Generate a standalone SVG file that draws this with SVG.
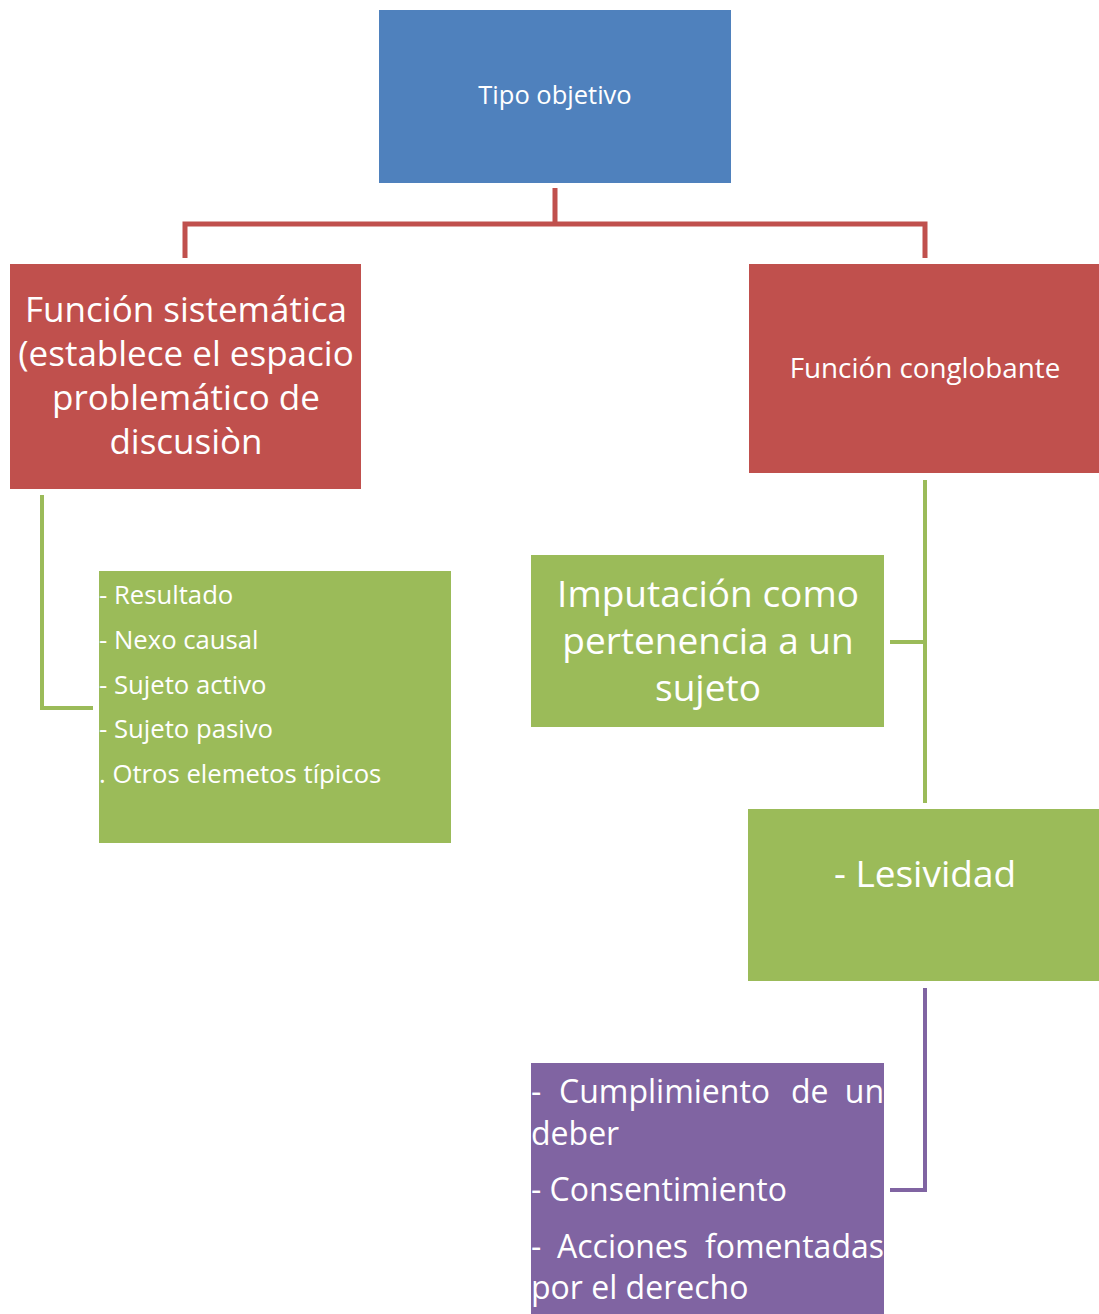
<svg xmlns="http://www.w3.org/2000/svg" width="1099" height="1314" viewBox="0 0 1099 1314">
<style>
text{font-family:"Open Sans","Noto Sans","Liberation Sans",sans-serif;fill:#fff}
.c{text-anchor:middle}
.e{text-anchor:end}
.p{font-size:32px}
.red{stroke:#C0504D;stroke-width:5;fill:none}
.grn{stroke:#9BBB59;stroke-width:4;fill:none}
.pur{stroke:#8064A2;stroke-width:4;fill:none}
</style>
<rect width="1099" height="1314" fill="#fff"/>
<g id="connectors">
<path class="red" d="M555 188V224M185 258V224H925V258"/>
<path class="grn" d="M42 495V708H93"/>
<path class="grn" d="M925 480V803M890 642H925"/>
<path class="pur" d="M925 988V1190H890"/>
</g>
<g id="tipo">
<rect x="379" y="10" width="352" height="173" fill="#4F81BD"/>
<text class="c" x="555" y="104" font-size="25.5">Tipo objetivo</text>
</g>
<g id="sistematica">
<rect x="10" y="264" width="351" height="225" fill="#C0504D"/>
<text class="c" font-size="35"><tspan x="186" y="322">Función sistemática</tspan><tspan x="186" y="366">(establece el espacio</tspan><tspan x="186" y="410">problemático de</tspan><tspan x="186" y="454">discusiòn</tspan></text>
</g>
<g id="conglobante">
<rect x="749" y="264" width="350" height="209" fill="#C0504D"/>
<text class="c" x="925" y="378" font-size="27.8">Función conglobante</text>
</g>
<g id="lista">
<rect x="99" y="571" width="352" height="272" fill="#9BBB59"/>
<text font-size="25.7"><tspan x="99" y="604">- Resultado</tspan><tspan x="99" y="649">- Nexo causal</tspan><tspan x="99" y="694">- Sujeto activo</tspan><tspan x="99" y="738">- Sujeto pasivo</tspan><tspan x="99" y="783">. Otros elemetos típicos</tspan></text>
</g>
<g id="imputacion">
<rect x="531" y="555" width="353" height="172" fill="#9BBB59"/>
<text class="c" font-size="37"><tspan x="708" y="607">Imputación como</tspan><tspan x="708" y="654">pertenencia a un</tspan><tspan x="708" y="701">sujeto</tspan></text>
</g>
<g id="lesividad">
<rect x="748" y="809" width="351" height="172" fill="#9BBB59"/>
<text class="c" x="925" y="887" font-size="37">- Lesividad</text>
</g>
<g id="justificaciones">
<rect x="531" y="1063" width="353" height="251" fill="#8064A2"/>
<text class="p" x="531" y="1103">-</text>
<text class="p" x="559" y="1103">Cumplimiento</text>
<text class="p" x="791" y="1103">de</text>
<text class="p e" x="884" y="1103">un</text>
<text class="p" x="531" y="1145">deber</text>
<text class="p" x="531" y="1201">- Consentimiento</text>
<text class="p" x="531" y="1258">-</text>
<text class="p" x="557" y="1258">Acciones</text>
<text class="p e" x="884" y="1258">fomentadas</text>
<text class="p" x="531" y="1299">por el derecho</text>
</g>
</svg>
